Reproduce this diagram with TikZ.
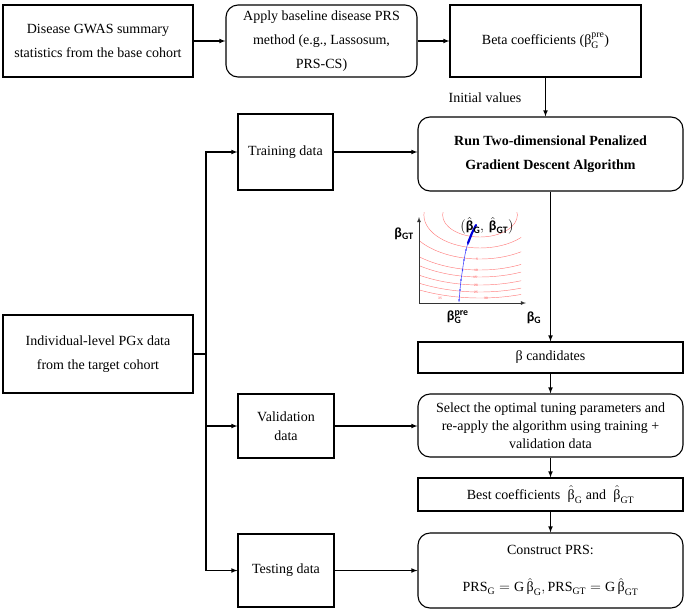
\documentclass[tikz,border=0pt]{standalone}
\usepackage{amsmath}
\usepackage{fontspec}
\setmainfont{Liberation Serif}
\newfontfamily\plotfont{Carlito}
\newcommand{\bt}{\text{β}}
\begin{document}
\begin{tikzpicture}[x=1pt,y=-1pt,line width=1.1pt,
    font=\fontsize{14}{24}\selectfont,
    box/.style={draw,align=center,inner sep=0pt},
    rbox/.style={box,rounded corners=12pt},
    contour/.style={red!50!white,line width=0.45pt},
    lvl/.style={red!70!white,inner sep=0pt,font=\plotfont\fontsize{3.5}{4}\selectfont},
    axislabel/.style={inner sep=0pt,font=\plotfont\bfseries\fontsize{14}{14}\selectfont}]
\useasboundingbox (0,0) rectangle (685,611);
\node[box,minimum width=190pt,minimum height=72pt] (gwas) at (98,41) {Disease GWAS summary\\statistics from the base cohort};
\node[rbox,minimum width=191pt,minimum height=72pt] (apply) at (321.5,41) {Apply baseline disease PRS\\method (e.g., Lassosum,\\PRS-CS)};
\node[box,minimum width=191pt,minimum height=72pt] (beta) at (545.5,41) {Beta coefficients ($\bt^{\mathrm{pre}}_{\mathrm{G}}$)};
\node[inner sep=0pt] (init) at (485,98) {Initial values};
\node[rbox,minimum width=265pt,minimum height=74pt,font=\bfseries\fontsize{14}{24}\selectfont] (run) at (550.5,154) {Run Two-dimensional Penalized\\Gradient Descent Algorithm};
\node[box,minimum width=95pt,minimum height=76pt] (train) at (285.5,152) {Training data};
\node[box,minimum width=190pt,minimum height=78pt] (indiv) at (98,354) {Individual-level PGx data\\from the target cohort};
\node[box,minimum width=265pt,minimum height=31pt] (cand) at (550.5,357.5) {β candidates};
\node[rbox,minimum width=265pt,minimum height=63pt,font=\fontsize{14}{18}\selectfont] (select) at (550.5,425.5) {Select the optimal tuning parameters and\\re-apply the algorithm using training +\\validation data};
\node[box,minimum width=96pt,minimum height=64pt,font=\fontsize{14}{19}\selectfont] (valid) at (286,426) {Validation\\data};
\node[box,minimum width=265pt,minimum height=33pt] (best) at (550.5,494.5) {Best coefficients\; $\hat{\bt}_{\mathrm{G}}$ and\; $\hat{\bt}_{\mathrm{GT}}$};
\node[rbox,minimum width=265pt,minimum height=75pt] (construct) at (550.5,570.5) {Construct PRS:\\[13pt]$\mathrm{PRS}_{\mathrm{G}}=\mathrm{G}\,\hat{\bt}_{\mathrm{G}},\mathrm{PRS}_{\mathrm{GT}}=\mathrm{G}\,\hat{\bt}_{\mathrm{GT}}$};
\node[box,minimum width=96pt,minimum height=73pt] (test) at (286,570.5) {Testing data};
\coordinate (trunk) at (206,354);
\draw[-latex] (gwas) -- (apply);
\draw[-latex] (apply) -- (beta);
\draw[-latex] (beta.south) -- (beta.south |- run.north);
\draw[-latex] (run) -- (cand);
\draw[-latex] (cand) -- (select);
\draw[-latex] (select) -- (best);
\draw[-latex] (best) -- (construct);
\draw (indiv.east |- trunk) -- (trunk);
\draw[-latex] (trunk) |- (train.west);
\draw[-latex] (trunk) |- (valid.west);
\draw[-latex] (trunk) |- (test.west);
\draw[-latex] (train.east) -- (train.east -| run.west);
\draw[-latex] (valid.east) -- (valid.east -| select.west);
\draw[-latex] (test.east) -- (test.east -| construct.west);
\begin{scope}
\clip (420,212) rectangle (521,302);
\foreach \b in {22,33,44,55,62,70,77,83}
  \draw[contour] (480,215) ellipse [x radius={1.7*\b}, y radius=\b];
\end{scope}
\foreach \txt/\lx/\ly in {5/477/259,10/476/270,15/475/277,20/476/285,25/476/292,30/486/298,35/440/298}
  \node[lvl] (lv\txt) at (\lx,\ly) {\txt};
\draw[blue!70,line width=0.6pt] plot[smooth] coordinates {(459,302) (460,290) (461,280) (462.5,270) (464,260) (466,250) (468,243) (470,238) (472,233) (476,225)};
\foreach \px/\py in {459/300,460/290,461/280,462.5/270,464/260,466/250,468/244}
  \fill[blue!80] (\px,\py) circle (0.9);
\draw[blue!85!black,line width=2.2pt,line cap=round] (468,243) -- (470,238) -- (472,233) -- (476,225);
\coordinate (orig) at (419,303);
\coordinate (xend) at (526,303);
\coordinate (yend) at (419,217);
\draw[-latex,line width=0.8pt,black!80] (orig) -- (xend);
\draw[-latex,line width=0.8pt,black!80] (orig) -- (yend);
\node[axislabel] (bgt) at (404,234) {β\textsubscript{GT}};
\node[axislabel] (bpre) at (460,317) {β\rlap{\textsuperscript{pre}}\textsubscript{G}\phantom{re}};
\node[axislabel] (bg) at (534,318) {β\textsubscript{G}};
\node[axislabel] (bhat) at (487,226) {$(\hat{\text{β}}_{\text{G}},\,\hat{\text{β}}_{\text{GT}})$};
\end{tikzpicture}
\end{document}
